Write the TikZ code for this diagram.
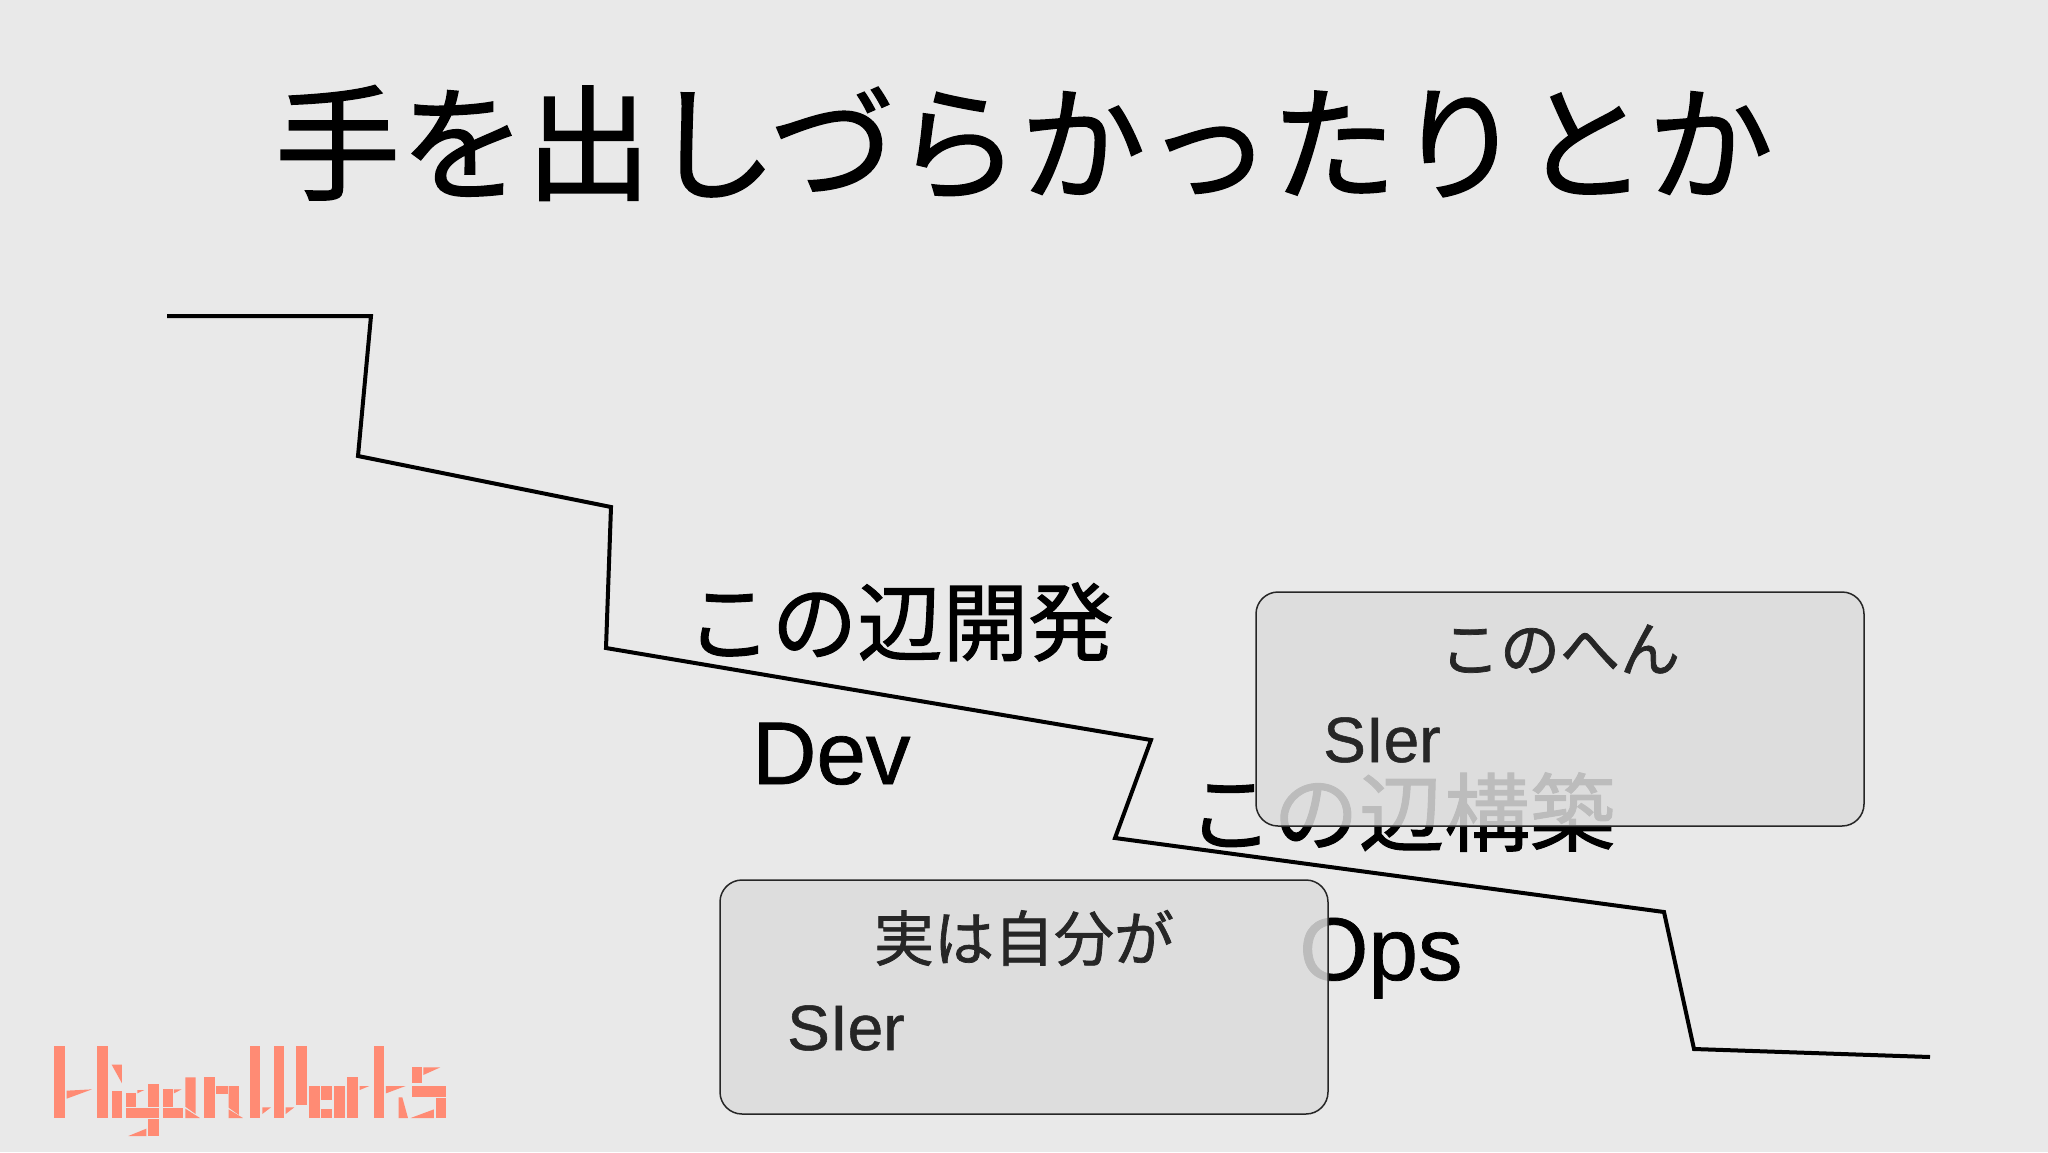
\documentclass[tikz,border=0pt]{standalone}
\usepackage{fontspec}
\setmainfont[FakeBold=0.8]{Liberation Sans}
\newfontfamily\jpfont[FakeBold=1.2]{Noto Sans CJK JP}
\usetikzlibrary{shapes.misc}
\definecolor{slidebg}{RGB}{233,233,233}
\definecolor{logocolor}{RGB}{255,139,116}
\definecolor{boxfill}{RGB}{220,220,220}
\tikzset{
  heading/.style={inner sep=0pt, font=\jpfont\fontsize{125.5}{125.5}\selectfont},
  bigjp/.style={inner sep=0pt, font=\jpfont\fontsize{85.5}{85.5}\selectfont},
  biglatin/.style={inner sep=0pt, anchor=base west, font=\fontsize{89}{89}\selectfont},
  notebox/.style={draw=black!85, line width=1.5pt, fill=boxfill, fill opacity=0.86,
    rounded corners=22pt, minimum width=608pt, minimum height=234pt},
  notejp/.style={inner sep=0pt, text=black!85, font=\jpfont\fontsize{60}{60}\selectfont},
  notelatin/.style={inner sep=0pt, anchor=base west, text=black!85, font=\fontsize{64}{64}\selectfont},
  logopart/.style={fill=logocolor}
}
\begin{document}
\begin{tikzpicture}[x=1pt, y=-1pt]
      \fill[slidebg] (0,0) rectangle (2048,1152);
      \useasboundingbox (0,0) rectangle (2048,1152);

      \node[heading] (title) at (1024,143) {手を出しづらかったりとか};

      \draw[line width=4pt, line join=miter] (167,316) -- (371,316) -- (358,456)
        -- (611,507) -- (606,648) -- (1151,740) -- (1115,838)
        -- (1664,912) -- (1694,1049) -- (1930,1057);

      \node[bigjp] (devlabel) at (900,622) {この辺開発};
      \node[biglatin] (dev) at (752,784) {Dev};

      \node[bigjp] (opslabel) at (1401.5,812) {この辺構築};
      \node[biglatin] (ops) at (1299,980) {Ops};

      \node[notebox] (upperbox) at (1560,709) {};
      \node[notejp] (upperlabel) at (1560,649) {このへん};
      \node[notelatin] (uppersier) at (1323,762) {SIer};

      \node[notebox] (lowerbox) at (1024,997) {};
      \node[notejp] (lowerlabel) at (1024,938) {実は自分が};
      \node[notelatin] (lowersier) at (787,1050) {SIer};

      \begin{scope}[shift={(45,1040)}, x=0.3333pt, y=-0.3333pt]
        \fill[logopart] (28,18) rectangle (60,234);
        \fill[logopart] (65,152) -- (141,148) -- (65,176) -- cycle;
        \fill[logopart] (157,18) rectangle (188,234);

        \fill[logopart] (200,74) -- (231,74) -- (231,130) -- cycle;
        \fill[logopart] (200,152) rectangle (231,234);

        \fill[logopart] (243,160) rectangle (272,200);
        \fill[logopart] (277,150) -- (298,150) -- (277,160) -- cycle;
        \fill[logopart] (309,132) rectangle (342,200);
        \fill[logopart] (243,204) rectangle (342,234);
        \fill[logopart] (309,238) rectangle (342,288);
        \fill[logopart] (250,288) -- (304,266) -- (304,288) -- cycle;

        \fill[logopart] (354,148) rectangle (383,200);
        \fill[logopart] (387,148) -- (410,148) -- (387,160) -- cycle;
        \fill[logopart] (354,204) rectangle (415,234);

        \fill[logopart] (421,112) -- (452,112) -- (452,222) -- (421,200) -- cycle;
        \fill[logopart] (421,206) -- (465,234) -- (421,234) -- cycle;

        \fill[logopart] (478,112) rectangle (510,234);
        \fill[logopart] (514,138) rectangle (548,162);
        \fill[logopart] (551,138) -- (582,138) -- (582,225) -- (551,203) -- cycle;
        \fill[logopart] (551,208) -- (594,234) -- (551,234) -- cycle;
      \end{scope}

      \begin{scope}[shift={(245,1040)}, x=0.3333pt, y=-0.3333pt]
        \fill[logopart] (14,18) rectangle (46,234);
        \fill[logopart] (52,202) -- (78,202) -- (52,222) -- cycle;
        \fill[logopart] (86,18) rectangle (118,234);
        \fill[logopart] (122,202) -- (148,202) -- (122,222) -- cycle;
        \fill[logopart] (153,18) rectangle (185,196);

        \fill[logopart] (193,138) rectangle (224,234);
        \fill[logopart] (228,138) rectangle (262,180);
        \fill[logopart] (228,207) rectangle (262,234);
        \fill[logopart] (266,138) rectangle (300,234);

        \fill[logopart] (307,110) rectangle (340,234);
        \fill[logopart] (344,138) -- (373,138) -- (344,150) -- cycle;

        \fill[logopart] (386,18) rectangle (418,234);
        \fill[logopart] (423,138) -- (482,138) -- (423,160) -- cycle;
        \fill[logopart] (461,172) -- (472,172) -- (489,234) -- (461,234) -- cycle;

        \fill[logopart] (500,82) rectangle (531,130);
        \fill[logopart] (535,82) -- (586,82) -- (535,105) -- cycle;
        \fill[logopart] (500,138) rectangle (604,170);
        \fill[logopart] (573,174) rectangle (604,234);
        \fill[logopart] (497,234) -- (567,208) -- (567,234) -- cycle;
      \end{scope}
    \end{tikzpicture}
\end{document}
